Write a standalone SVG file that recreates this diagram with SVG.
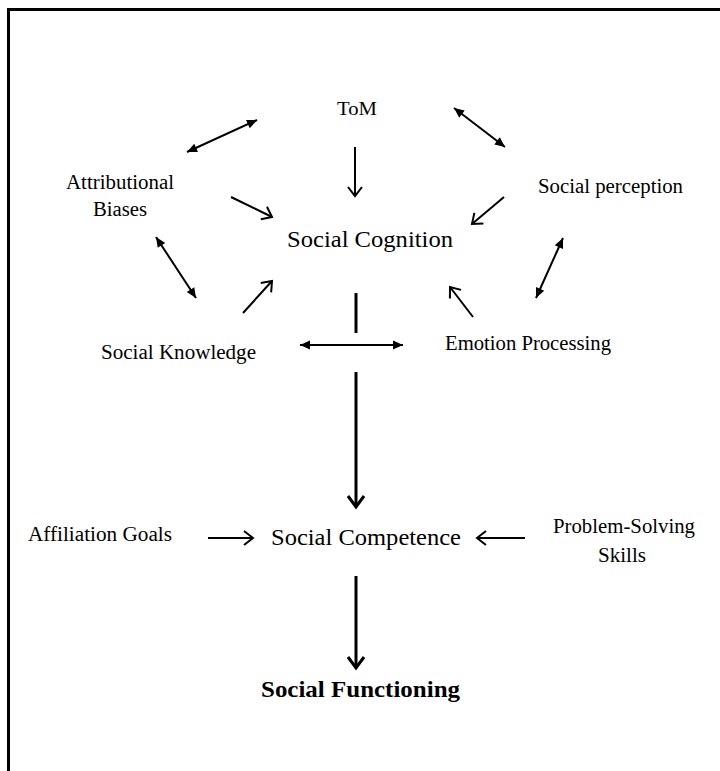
<svg xmlns="http://www.w3.org/2000/svg" width="720" height="771" viewBox="0 0 720 771">
<style>
text{font-family:"Liberation Serif","Times New Roman",serif;fill:#000;}
.s{font-size:20px;}
.m{font-size:19px;}
.l{font-size:24px;}
.b{font-size:23px;font-weight:bold;}
.c{stroke:#000;fill:none;stroke-width:2;}
.t{stroke:#000;fill:none;stroke-width:3;}
.v{marker-end:url(#chev);}
.vt{marker-end:url(#chevT);}
.d{marker-start:url(#tri);marker-end:url(#tri);}
</style>
<defs>
<marker id="chev" markerUnits="userSpaceOnUse" viewBox="-12 -10 14 20" refX="0" refY="0" markerWidth="14" markerHeight="20" orient="auto" overflow="visible">
<path d="M-9,-7 L0,0 L-9,7" fill="none" stroke="#000" stroke-width="2"/>
</marker>
<marker id="chevT" markerUnits="userSpaceOnUse" viewBox="-14 -10 16 20" refX="0" refY="0" markerWidth="16" markerHeight="20" orient="auto" overflow="visible">
<path d="M-11,-8 L0,0 L-11,8" fill="none" stroke="#000" stroke-width="3"/>
</marker>
<marker id="tri" markerUnits="userSpaceOnUse" viewBox="-12 -6 13 12" refX="0" refY="0" markerWidth="13" markerHeight="12" orient="auto-start-reverse" overflow="visible">
<path d="M-10,-4.5 L0,0 L-10,4.5 Z" fill="#000"/>
</marker>
</defs>
<rect width="720" height="771" fill="#fff"/>
<path d="M8.5,780 V9.5 H730" fill="none" stroke="#000" stroke-width="3"/>

<g id="connectors">
<line class="c d" x1="187" y1="152" x2="257" y2="120"/>
<line class="c v" x1="355" y1="147" x2="355" y2="196"/>
<line class="c d" x1="454" y1="108" x2="505" y2="147"/>
<line class="c v" x1="231" y1="197" x2="272" y2="217"/>
<line class="c v" x1="504" y1="197" x2="472" y2="224"/>
<line class="c d" x1="156" y1="237" x2="196" y2="298"/>
<line class="c v" x1="243" y1="313" x2="272" y2="281"/>
<line class="c d" x1="563" y1="238" x2="536" y2="298"/>
<line class="c v" x1="473" y1="317" x2="450" y2="287"/>
<line class="t" x1="356" y1="293" x2="356" y2="333"/>
<line class="c d" x1="300" y1="345" x2="403" y2="345"/>
<line class="t vt" x1="356" y1="372" x2="356" y2="507"/>
<line class="c v" x1="208" y1="538" x2="253" y2="538"/>
<line class="c v" x1="525" y1="538" x2="477" y2="538"/>
<line class="t vt" x1="356" y1="576" x2="356" y2="668"/>
</g>

<g id="tom"><text class="m" x="337" y="115" textLength="40" lengthAdjust="spacingAndGlyphs">ToM</text></g>
<g id="attributional"><text class="s" x="66" y="189" textLength="108" lengthAdjust="spacingAndGlyphs">Attributional</text><text class="s" x="93" y="216" textLength="54" lengthAdjust="spacingAndGlyphs">Biases</text></g>
<g id="social-perception"><text class="s" x="538" y="193" textLength="145" lengthAdjust="spacingAndGlyphs">Social perception</text></g>
<g id="social-cognition"><text class="l" x="287" y="247" textLength="166" lengthAdjust="spacingAndGlyphs">Social Cognition</text></g>
<g id="social-knowledge"><text class="s" x="101" y="359" textLength="155" lengthAdjust="spacingAndGlyphs">Social Knowledge</text></g>
<g id="emotion-processing"><text class="s" x="445" y="350" textLength="166" lengthAdjust="spacingAndGlyphs">Emotion Processing</text></g>
<g id="affiliation-goals"><text class="s" x="28" y="541" textLength="144" lengthAdjust="spacingAndGlyphs">Affiliation Goals</text></g>
<g id="social-competence"><text class="l" x="271" y="545" textLength="190" lengthAdjust="spacingAndGlyphs">Social Competence</text></g>
<g id="problem-solving"><text class="s" x="553" y="533" textLength="142" lengthAdjust="spacingAndGlyphs">Problem-Solving</text><text class="s" x="598" y="562" textLength="48" lengthAdjust="spacingAndGlyphs">Skills</text></g>
<g id="social-functioning"><text class="b" x="261" y="697" textLength="199" lengthAdjust="spacingAndGlyphs">Social Functioning</text></g>
</svg>
